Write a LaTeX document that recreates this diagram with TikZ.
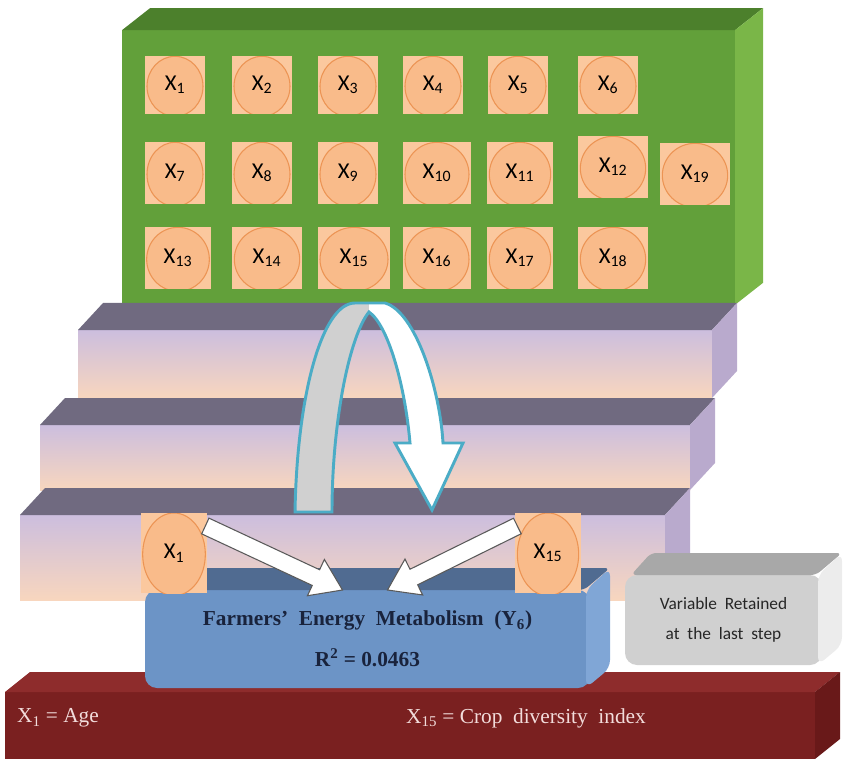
\documentclass[tikz,border=0pt]{standalone}
\usepackage{fontspec}
\setmainfont{Liberation Serif}
\newfontfamily\calfont{Carlito}
\usetikzlibrary{calc,positioning}

\definecolor{panelgreen}{RGB}{98,160,58}
\definecolor{paneltop}{RGB}{76,128,44}
\definecolor{panelside}{RGB}{122,182,72}
\definecolor{peach}{RGB}{251,200,158}
\definecolor{peachdark}{RGB}{249,187,138}
\definecolor{peachline}{RGB}{236,148,84}
\definecolor{slabtop}{RGB}{112,106,128}
\definecolor{slabhi}{RGB}{204,190,222}
\definecolor{slablo}{RGB}{248,214,190}
\definecolor{slabside}{RGB}{185,170,205}
\definecolor{eqfront}{RGB}{108,148,198}
\definecolor{eqtop}{RGB}{80,107,145}
\definecolor{eqside}{RGB}{128,166,214}
\definecolor{eqtext}{RGB}{25,35,60}
\definecolor{notefront}{RGB}{208,208,208}
\definecolor{notetop}{RGB}{168,168,168}
\definecolor{noteside}{RGB}{236,236,236}
\definecolor{basefront}{RGB}{122,32,32}
\definecolor{basetop}{RGB}{142,44,44}
\definecolor{baseside}{RGB}{105,25,25}
\definecolor{basetext}{RGB}{242,220,219}
\definecolor{loopline}{RGB}{75,172,198}
\definecolor{loopgray}{RGB}{208,208,208}
\definecolor{arrowline}{RGB}{90,90,90}

\newcommand{\xv}[1]{X\textsubscript{#1}}
\newcommand{\blockarrow}[2]{%
  \coordinate (ba-n) at ($(#2)!22pt!(#1)$);
  \filldraw[fill=white, draw=arrowline, line width=0.8pt]
    ($(#1)!6.5pt!90:(#2)$) -- ($(ba-n)!6.5pt!90:(#2)$) -- ($(ba-n)!15pt!90:(#2)$)
    -- (#2) -- ($(ba-n)!15pt!-90:(#2)$) -- ($(ba-n)!6.5pt!-90:(#2)$)
    -- ($(#1)!6.5pt!-90:(#2)$) -- cycle;}

\begin{document}
\begin{tikzpicture}[
  x=0.75pt, y=-0.75pt,
  face/.style={inner sep=0pt, outer sep=0pt},
  var/.style={face, fill=peach, minimum width=45pt, minimum height=43pt,
              font=\calfont\fontsize{17}{19}\selectfont,
              path picture={\filldraw[fill=peachdark, draw=peachline, line width=0.8pt]
                let \p1=(path picture bounding box.south west),
                    \p2=(path picture bounding box.north east) in
                ({(\x1+\x2)/2},{(\y1+\y2)/2-1pt}) ellipse ({(\x2-\x1)/2-1.5pt} and {(\y2-\y1)/2+1pt});}},
  slab/.style={face, top color=slabhi, bottom color=slablo},
  eqbox/.style={face, fill=eqfront, rounded corners=9pt, align=center, text=eqtext,
                font=\bfseries\fontsize{16}{18}\selectfont},
  notebox/.style={face, fill=notefront, rounded corners=9pt, align=center, text=black!85,
                  font=\calfont\fontsize{13}{22}\selectfont},
  basetxt/.style={text=basetext, font=\fontsize{16}{18}\selectfont}
]
\useasboundingbox (0,0) rectangle (853,759);

% variable panel
\node[face, fill=panelgreen, minimum width=459.75pt, minimum height=206pt] (panel) at (428.5,167.5) {};
\fill[paneltop] (panel.north west) -- ++(28,-22) -- ($(panel.north east)+(28,-22)$) -- (panel.north east) -- cycle;
\fill[panelside] (panel.north east) -- ++(28,-22) -- ($(panel.south east)+(28,-22)$) -- (panel.south east) -- cycle;

\node[var] (x1) at (175,85) {\xv{1}};
\node[var] (x2) at (262,85) {\xv{2}};
\node[var] (x3) at (348,85) {\xv{3}};
\node[var] (x4) at (433,85) {\xv{4}};
\node[var] (x5) at (518,85) {\xv{5}};
\node[var] (x6) at (608,85) {\xv{6}};
\node[var, minimum height=46pt] (x7) at (175,173) {\xv{7}};
\node[var, minimum height=46pt] (x8) at (262,173) {\xv{8}};
\node[var, minimum height=46pt] (x9) at (348,173) {\xv{9}};
\node[var, minimum width=51pt, minimum height=46pt] (x10) at (437,173) {\xv{10}};
\node[var, minimum width=49pt, minimum height=46pt] (x11) at (520,173) {\xv{11}};
\node[var, minimum width=52pt, minimum height=46pt] (x12) at (613,167) {\xv{12}};
\node[var, minimum width=52pt, minimum height=46pt] (x19) at (695,174) {\xv{19}};
\node[var, minimum width=50pt, minimum height=46pt] (x13) at (178,258) {\xv{13}};
\node[var, minimum width=52pt, minimum height=46pt] (x14) at (267,258) {\xv{14}};
\node[var, minimum width=54pt, minimum height=46pt] (x15) at (354,258) {\xv{15}};
\node[var, minimum width=51pt, minimum height=46pt] (x16) at (437,258) {\xv{16}};
\node[var, minimum width=49pt, minimum height=46pt] (x17) at (520,258) {\xv{17}};
\node[var, minimum width=52pt, minimum height=46pt] (x18) at (613,258) {\xv{18}};

% steps
\foreach \s/\cx/\cy/\w/\h in {stepa/395/364/475.5/51, stepb/365/457.5/487.5/48.75, stepc/342.5/557.5/483.75/63.75} {
  \node[slab, minimum width=\w pt, minimum height=\h pt] (\s) at (\cx,\cy) {};
  \fill[slabtop] (\s.north west) -- ++(25,-27) -- ($(\s.north east)+(25,-27)$) -- (\s.north east) -- cycle;
  \fill[slabside] (\s.north east) -- ++(25,-27) -- ($(\s.south east)+(25,-27)$) -- (\s.south east) -- cycle;
}

% base
\node[face, fill=basefront, minimum width=607.5pt, minimum height=50.25pt] (base) at (410,725.5) {};
\fill[basetop] (base.north west) -- ++(25,-20) -- ($(base.north east)+(25,-20)$) -- (base.north east) -- cycle;
\fill[baseside] (base.north east) -- ++(25,-20) -- ($(base.south east)+(25,-20)$) -- (base.south east) -- cycle;
\node[basetxt] (agelbl) at (58,718) {X\textsubscript{1} = Age};
\node[basetxt] (cdilbl) at (526,718) {X\textsubscript{15} = Crop\ \ diversity\ \ index};

% loop arrow
\path[fill=white, draw=loopline, line width=2.2pt,
      path picture={\fill[loopgray] (280,290) rectangle (369,520);}]
  (295,512) .. controls (297,395) and (322,303) .. (355,303) -- (385,303)
  .. controls (416,312) and (440,390) .. (443,443) -- (463,443) -- (432,510)
  -- (395,443) -- (410,443) .. controls (405,385) and (388,325) .. (369,312)
  .. controls (350,335) and (332,420) .. (332,512) -- cycle;

% result boxes
\node[eqbox, minimum width=333.75pt, minimum height=73.5pt] (eq) at (367.5,639)
  {Farmers'\ \ Energy\ \ Metabolism\ \ (Y\textsubscript{6})\\[13pt]R\textsuperscript{2} = 0.0463};
\fill[eqtop, rounded corners=4pt] ($(eq.north west)+(6,0)$) -- ++(22,-22) -- ($(eq.north east)+(20,-22)$) -- ($(eq.north east)+(-6,0)$) -- cycle;
\fill[eqside, rounded corners=6pt] ($(eq.north east)+(-4,0)$) -- ++(24,-22) -- ($(eq.south east)+(20,-20)$) -- ($(eq.south east)+(-4,0)$) -- cycle;

\node[notebox, minimum width=147.75pt, minimum height=67.5pt] (note) at (723.5,620)
  {Variable\ \ Retained\\at\ \ the\ \ last\ \ step};
\fill[notetop, rounded corners=4pt] ($(note.north west)+(6,0)$) -- ++(20,-22) -- ($(note.north east)+(20,-22)$) -- ($(note.north east)+(-6,0)$) -- cycle;
\fill[noteside, rounded corners=6pt] ($(note.north east)+(-4,0)$) -- ++(24,-22) -- ($(note.south east)+(20,-20)$) -- ($(note.south east)+(-4,0)$) -- cycle;

\node[var, minimum width=50pt, minimum height=60pt] (bx1) at (174,553) {\xv{1}};
\node[var, minimum width=49pt, minimum height=60pt] (bx15) at (548,553) {\xv{15}};

\blockarrow{$(bx1.east)+(-2,-27)$}{$(eq.north)+(-25,0)$}
\blockarrow{$(bx15.west)+(2,-27)$}{$(eq.north)+(20,0)$}
\end{tikzpicture}
\end{document}
